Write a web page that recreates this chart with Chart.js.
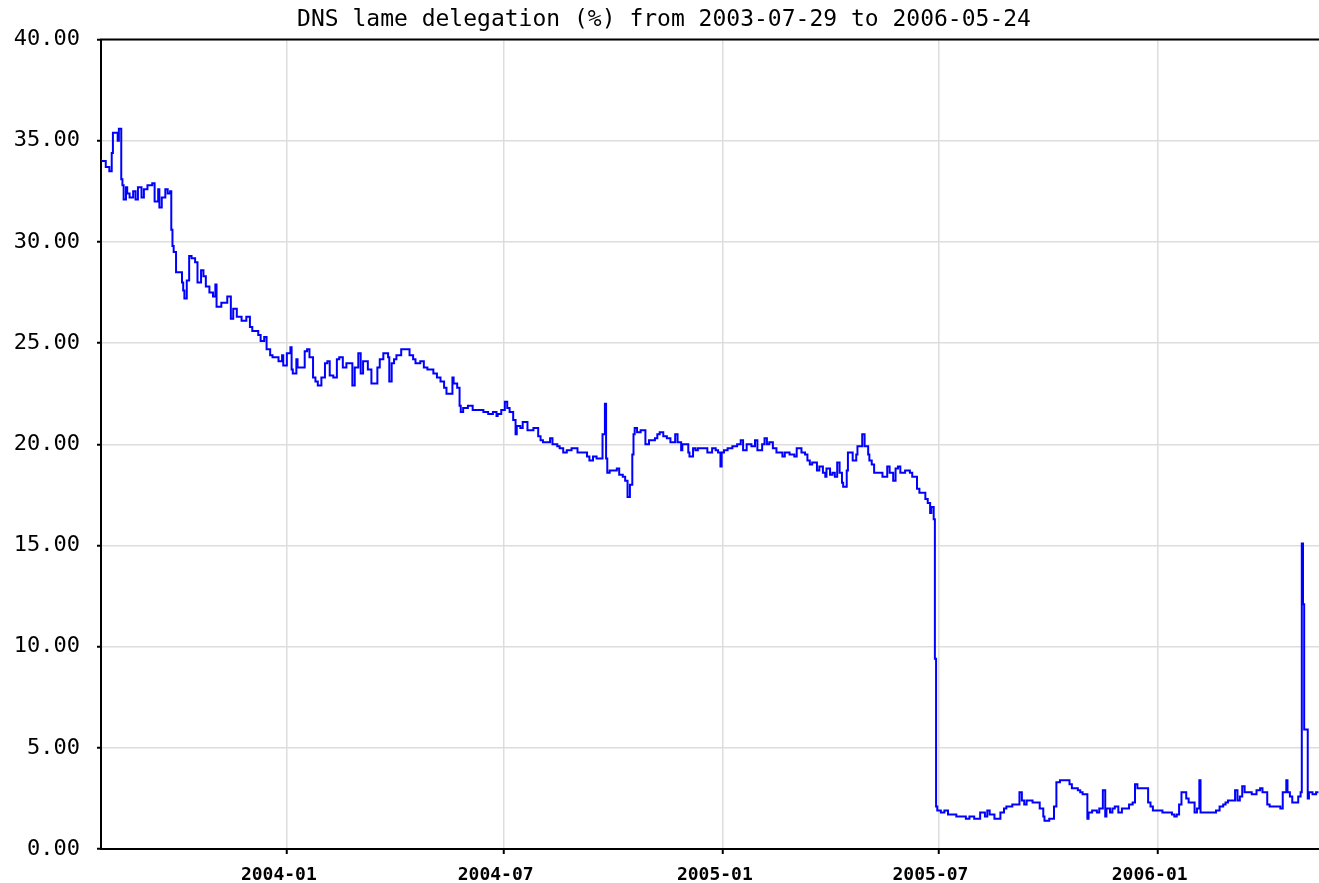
<!DOCTYPE html>
<html>
<head>
<meta charset="utf-8">
<script src="https://cdn.jsdelivr.net/npm/chart.js@4.4.0/dist/chart.umd.min.js"></script>
<style>
html,body{margin:0;padding:0;background:#fff;overflow:hidden;}
#wrap{width:1330px;height:883px;}
</style>
</head>
<body>
<div id="wrap"><canvas id="c" width="1330" height="883"></canvas></div>
<script>
const startDate = "2003-07-29";
const endDate = "2006-05-24";
const chartTitle = "DNS lame delegation (%) from " + startDate + " to " + endDate;
const tickLabels = ["2004-01","2004-07","2005-01","2005-07","2006-01"];

const dates = [
"2003-07-29","2003-08-02","2003-08-05","2003-08-07","2003-08-08","2003-08-09","2003-08-12","2003-08-13","2003-08-15","2003-08-16","2003-08-17","2003-08-19","2003-08-20","2003-08-22","2003-08-25","2003-08-27","2003-08-29",
"2003-09-01","2003-09-03","2003-09-06","2003-09-10","2003-09-12","2003-09-15","2003-09-16","2003-09-18","2003-09-21","2003-09-23","2003-09-25","2003-09-26","2003-09-27","2003-09-28","2003-09-30",
"2003-10-02","2003-10-05","2003-10-06","2003-10-07","2003-10-09","2003-10-11","2003-10-13","2003-10-16","2003-10-18","2003-10-21","2003-10-23","2003-10-25","2003-10-28","2003-10-31",
"2003-11-02","2003-11-03","2003-11-07","2003-11-12","2003-11-15","2003-11-17","2003-11-20","2003-11-24","2003-11-28",
"2003-12-01","2003-12-03","2003-12-08","2003-12-10","2003-12-13","2003-12-15","2003-12-18","2003-12-20","2003-12-22","2003-12-25","2003-12-28","2003-12-29",
"2004-01-01","2004-01-04","2004-01-05","2004-01-06","2004-01-09","2004-01-10","2004-01-14","2004-01-16","2004-01-18","2004-01-20","2004-01-23","2004-01-25","2004-01-27","2004-01-30",
"2004-02-02","2004-02-04","2004-02-06","2004-02-09","2004-02-12","2004-02-14","2004-02-17","2004-02-20","2004-02-25","2004-02-27",
"2004-03-01","2004-03-03","2004-03-05","2004-03-09","2004-03-12","2004-03-17","2004-03-19","2004-03-22","2004-03-26","2004-03-27","2004-03-29","2004-03-31",
"2004-04-02","2004-04-06","2004-04-09","2004-04-13","2004-04-16","2004-04-18","2004-04-22","2004-04-25","2004-04-28",
"2004-05-03","2004-05-06","2004-05-09","2004-05-12","2004-05-14","2004-05-17","2004-05-19","2004-05-20","2004-05-23","2004-05-25","2004-05-26","2004-05-28",
"2004-06-01","2004-06-05","2004-06-09","2004-06-14","2004-06-18","2004-06-22","2004-06-25","2004-06-26","2004-06-29",
"2004-07-02","2004-07-04","2004-07-06","2004-07-09","2004-07-11","2004-07-12","2004-07-15","2004-07-17","2004-07-21","2004-07-26","2004-07-30",
"2004-08-01","2004-08-03","2004-08-06","2004-08-09","2004-08-11","2004-08-15","2004-08-17","2004-08-20","2004-08-23","2004-08-27",
"2004-09-01","2004-09-05","2004-09-09","2004-09-11","2004-09-14","2004-09-17","2004-09-20","2004-09-22","2004-09-24","2004-09-25","2004-09-26","2004-09-28",
"2004-10-01","2004-10-04","2004-10-06","2004-10-09","2004-10-11","2004-10-13","2004-10-15","2004-10-17","2004-10-18","2004-10-19","2004-10-21","2004-10-24","2004-10-28","2004-10-31",
"2004-11-02","2004-11-05","2004-11-07","2004-11-09","2004-11-12","2004-11-15","2004-11-18","2004-11-22","2004-11-24","2004-11-27","2004-11-28",
"2004-12-03","2004-12-04","2004-12-07","2004-12-09","2004-12-11","2004-12-15","2004-12-19","2004-12-23","2004-12-26","2004-12-28","2004-12-30","2004-12-31",
"2005-01-02","2005-01-05","2005-01-09","2005-01-13","2005-01-16","2005-01-18","2005-01-21","2005-01-25","2005-01-28","2005-01-30",
"2005-02-03","2005-02-05","2005-02-07","2005-02-09","2005-02-12","2005-02-15","2005-02-20","2005-02-22","2005-02-26",
"2005-03-02","2005-03-04","2005-03-08","2005-03-11","2005-03-13","2005-03-15","2005-03-17","2005-03-21","2005-03-23","2005-03-26","2005-03-28","2005-03-29",
"2005-04-01","2005-04-03","2005-04-05","2005-04-07","2005-04-09","2005-04-11","2005-04-12","2005-04-15","2005-04-16","2005-04-17","2005-04-20","2005-04-23","2005-04-24","2005-04-28","2005-04-30",
"2005-05-03","2005-05-04","2005-05-06","2005-05-08","2005-05-11","2005-05-15","2005-05-19","2005-05-21","2005-05-24","2005-05-26","2005-05-28","2005-05-30",
"2005-06-01","2005-06-03","2005-06-07","2005-06-09","2005-06-13","2005-06-15","2005-06-20","2005-06-22","2005-06-24","2005-06-25","2005-06-27","2005-06-28","2005-06-29","2005-06-30",
"2005-07-03","2005-07-06","2005-07-09","2005-07-12","2005-07-16","2005-07-21","2005-07-24","2005-07-27","2005-07-31",
"2005-08-05","2005-08-09","2005-08-11","2005-08-13","2005-08-17","2005-08-22","2005-08-25","2005-08-27",
"2005-09-01","2005-09-05","2005-09-07","2005-09-09","2005-09-11","2005-09-13","2005-09-16","2005-09-18","2005-09-22","2005-09-24","2005-09-27","2005-09-28",
"2005-10-02","2005-10-06","2005-10-08","2005-10-11","2005-10-15","2005-10-19","2005-10-21","2005-10-23","2005-10-26","2005-10-28","2005-10-30",
"2005-11-01","2005-11-03","2005-11-04","2005-11-07","2005-11-11","2005-11-13","2005-11-16","2005-11-18","2005-11-19","2005-11-22","2005-11-24","2005-11-26","2005-11-29",
"2005-12-02","2005-12-05","2005-12-08","2005-12-11","2005-12-13","2005-12-15","2005-12-19","2005-12-21","2005-12-24","2005-12-26","2005-12-28","2005-12-31",
"2006-01-05","2006-01-09","2006-01-13","2006-01-15","2006-01-17","2006-01-19","2006-01-21","2006-01-25","2006-01-27","2006-01-30",
"2006-02-01","2006-02-03","2006-02-05","2006-02-06","2006-02-07","2006-02-11","2006-02-15","2006-02-19","2006-02-22","2006-02-25","2006-02-27",
"2006-03-01","2006-03-04","2006-03-07","2006-03-09","2006-03-11","2006-03-13","2006-03-15","2006-03-18","2006-03-21","2006-03-24","2006-03-25","2006-03-28","2006-03-30",
"2006-04-02","2006-04-03","2006-04-05","2006-04-09","2006-04-14","2006-04-16","2006-04-19","2006-04-20","2006-04-22","2006-04-24","2006-04-27","2006-04-29",
"2006-05-01","2006-05-02","2006-05-03","2006-05-04","2006-05-06","2006-05-07","2006-05-08","2006-05-11","2006-05-14","2006-05-16"
];

const lamePercent = [
34.1,34.0,33.7,33.5,34.4,35.4,35.4,35.0,35.6,33.1,32.8,32.1,32.7,32.4,32.2,32.5,32.1,
32.7,32.2,32.6,32.8,32.9,32.0,32.6,31.7,32.2,32.6,32.4,32.5,30.6,29.8,29.5,
28.5,28.5,28.0,27.6,27.2,28.1,29.3,29.2,29.0,28.0,28.6,28.3,27.8,27.5,
27.3,27.9,26.8,27.0,27.3,26.2,26.7,26.3,26.1,
26.3,25.8,25.6,25.4,25.1,25.3,24.7,24.4,24.3,24.3,24.1,24.4,
23.9,24.5,24.8,23.7,23.5,24.2,23.8,23.8,24.6,24.7,24.3,23.3,23.1,22.9,
23.3,24.0,24.1,23.4,23.3,24.2,24.3,23.8,24.0,22.9,
23.8,24.5,23.5,24.1,23.7,23.0,23.8,24.2,24.5,24.3,23.1,24.0,
24.2,24.4,24.7,24.7,24.4,24.2,24.0,24.1,23.8,
23.7,23.5,23.3,23.1,22.8,22.5,22.5,23.3,23.0,22.8,21.9,21.6,
21.8,21.9,21.7,21.7,21.6,21.5,21.6,21.4,21.5,
21.7,22.1,21.8,21.6,21.2,20.5,20.9,20.8,21.1,20.7,20.8,
20.4,20.2,20.1,20.1,20.3,20.0,19.9,19.8,19.6,19.7,
19.8,19.6,19.6,19.4,19.2,19.4,19.3,19.3,20.5,22.0,19.3,18.6,
18.7,18.7,18.8,18.5,18.4,18.2,17.4,18.0,19.5,20.5,20.8,20.6,20.7,20.0,
20.2,20.2,20.3,20.5,20.6,20.4,20.3,20.1,20.5,20.1,19.7,
20.0,19.6,19.4,19.8,19.7,19.8,19.8,19.6,19.8,19.7,19.6,18.9,
19.6,19.7,19.8,19.9,20.0,20.2,19.7,20.0,19.9,20.2,
19.7,20.0,20.3,20.0,20.1,19.8,19.6,19.4,19.6,
19.5,19.4,19.8,19.6,19.5,19.2,19.0,19.1,18.7,18.9,18.6,18.4,
18.8,18.5,18.6,18.4,19.1,18.6,18.1,17.9,18.7,19.6,19.6,19.2,19.5,19.9,20.5,
19.9,19.5,19.2,19.0,18.6,18.6,18.4,18.9,18.6,18.2,18.8,18.9,
18.6,18.6,18.7,18.6,18.4,17.8,17.6,17.3,17.1,16.6,16.9,16.3,9.4,2.1,
1.9,1.8,1.9,1.7,1.7,1.6,1.6,1.5,1.6,
1.5,1.8,1.6,1.9,1.7,1.5,1.8,2.0,
2.1,2.2,2.2,2.8,2.4,2.2,2.4,2.4,2.3,2.3,2.0,1.6,
1.4,1.5,2.1,3.3,3.4,3.4,3.2,3.0,3.0,2.9,2.8,
2.7,2.7,1.5,1.8,1.9,1.8,2.0,2.9,1.6,2.0,1.8,2.0,2.1,
1.8,2.0,2.0,2.2,2.3,3.2,3.0,3.0,3.0,2.3,2.1,1.9,
1.9,1.8,1.8,1.7,1.6,1.7,2.2,2.8,2.5,2.3,
2.3,1.8,2.0,3.4,1.8,1.8,1.8,1.8,1.9,2.1,2.2,
2.3,2.4,2.4,2.9,2.4,2.6,3.1,2.8,2.8,2.7,2.7,2.9,3.0,
2.8,2.8,2.2,2.1,2.1,2.0,2.8,3.4,2.8,2.6,2.3,2.3,
2.6,2.8,15.1,12.1,5.9,5.9,2.5,2.8,2.7,2.8
];

function dayOffset(s) {
  const full = s.length === 7 ? s + "-01" : s;
  return Math.round((Date.parse(full + "T00:00:00Z") - Date.parse(startDate + "T00:00:00Z")) / 86400000);
}

const points = dates.map((d, i) => ({ x: dayOffset(d), y: lamePercent[i] }));
const monoFont = '"DejaVu Sans Mono", "Liberation Mono", monospace';

const topBorder = {
  id: 'topBorder',
  afterDraw(chart) {
    const a = chart.chartArea, c = chart.ctx;
    c.save();
    c.strokeStyle = '#000';
    c.lineWidth = 2;
    c.beginPath();
    c.moveTo(a.left - 1, a.top);
    c.lineTo(chart.width, a.top);
    c.stroke();
    c.restore();
  }
};

new Chart(document.getElementById('c'), {
  type: 'line',
  data: {
    datasets: [{
      label: 'lame delegation',
      data: points,
      borderColor: '#0000ff',
      borderWidth: 2,
      pointRadius: 0,
      stepped: 'after',
      fill: false
    }]
  },
  options: {
    responsive: false,
    animation: false,
    devicePixelRatio: 1,
    layout: { padding: { left: 0, right: 2, top: 0, bottom: 0 } },
    plugins: {
      legend: { display: false },
      tooltip: { enabled: false },
      title: {
        display: true,
        text: chartTitle,
        color: '#000',
        font: { family: monoFont, size: 23, weight: 'normal', lineHeight: 1.2 },
        padding: { top: 6, bottom: 6 }
      }
    },
    scales: {
      x: {
        type: 'linear',
        min: 0,
        max: dayOffset(endDate),
        afterBuildTicks: s => { s.ticks = tickLabels.map(t => ({ value: dayOffset(t) })); },
        ticks: {
          autoSkip: false, maxRotation: 0, color: '#000', padding: 11, labelOffset: -8,
          font: { family: monoFont, size: 18, weight: 'bold' },
          callback: (v, i) => tickLabels[i]
        },
        grid: { color: '#dddddd', lineWidth: 1.5, tickColor: '#000', tickLength: 5, tickWidth: 2 },
        border: { color: '#000', width: 2 },
        afterFit: s => { s.height = 34; }
      },
      y: {
        min: 0,
        max: 40,
        ticks: {
          stepSize: 5, color: '#000', padding: 17,
          font: { family: monoFont, size: 22 },
          callback: v => Number(v).toFixed(2)
        },
        grid: { color: '#dddddd', lineWidth: 1.5, tickColor: '#000', tickLength: 4, tickWidth: 2 },
        border: { color: '#000', width: 2 },
        afterFit: s => { s.width = 101; }
      }
    }
  },
  plugins: [topBorder]
});
</script>
</body>
</html>
